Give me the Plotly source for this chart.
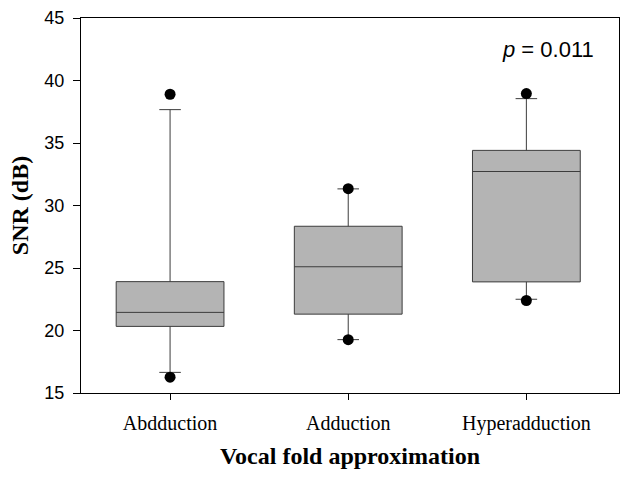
import plotly.graph_objects as go

# box statistics (SNR, dB)
groups = ['Abdduction', 'Adduction', 'Hyperadduction']
q1 = [20.33, 21.31, 23.89]
median = [21.45, 25.1, 32.72]
q3 = [23.91, 28.34, 34.41]
lower_whisker = [16.65, 19.27, 22.5]
upper_whisker = [37.67, 31.33, 38.55]

# outliers beyond the whiskers
outlier_x = ['Abdduction', 'Abdduction', 'Adduction', 'Adduction', 'Hyperadduction', 'Hyperadduction']
outlier_y = [38.9, 16.27, 31.35, 19.27, 38.95, 22.4]

serif = 'Liberation Serif, Times New Roman, serif'
sans = 'Liberation Sans, Arial, sans-serif'

fig = go.Figure()

fig.add_trace(go.Box(
    x=groups,
    q1=q1, median=median, q3=q3,
    lowerfence=lower_whisker, upperfence=upper_whisker,
    boxpoints=False,
    width=0.605,
    whiskerwidth=0.2,
    fillcolor='#b4b4b4',
    line=dict(color='#3c3c3c', width=1),
    showlegend=False,
))

fig.add_trace(go.Scatter(
    x=outlier_x, y=outlier_y,
    mode='markers',
    marker=dict(color='black', size=11, symbol='circle'),
    showlegend=False,
))

fig.add_annotation(
    text='<i>p</i> = 0.011',
    xref='paper', yref='paper', x=0.957, y=0.915,
    xanchor='right', yanchor='middle', showarrow=False,
    font=dict(family=sans, size=22, color='black'),
)

fig.update_layout(
    width=628, height=482,
    margin=dict(l=81, r=8, t=16, b=89),
    plot_bgcolor='white', paper_bgcolor='white',
)

fig.update_xaxes(
    type='category',
    range=[-0.5, 2.52],
    showline=True, linecolor='black', linewidth=1, mirror=True,
    ticks='outside', ticklen=6, tickcolor='black',
    showgrid=False, zeroline=False,
    tickfont=dict(family=serif, size=20, color='black'),
    ticklabelstandoff=6,
    title=dict(text='<b>Vocal fold approximation</b>', standoff=13,
               font=dict(family=serif, size=24, color='black')),
)

fig.update_yaxes(
    range=[15, 45],
    tickvals=[15, 20, 25, 30, 35, 40, 45],
    showline=True, linecolor='black', linewidth=1, mirror=True,
    ticks='outside', ticklen=7, tickcolor='black',
    showgrid=False, zeroline=False,
    tickfont=dict(family=sans, size=18, color='black'),
    ticklabelstandoff=5,
    title=dict(text='<b>SNR (dB)</b>', standoff=8,
               font=dict(family=serif, size=24, color='black')),
)

# drop the default page margin so the figure sits at the window's corner
fig.write_html('out.html', config={'displayModeBar': False},
               post_script="document.body.style.margin='0';")
